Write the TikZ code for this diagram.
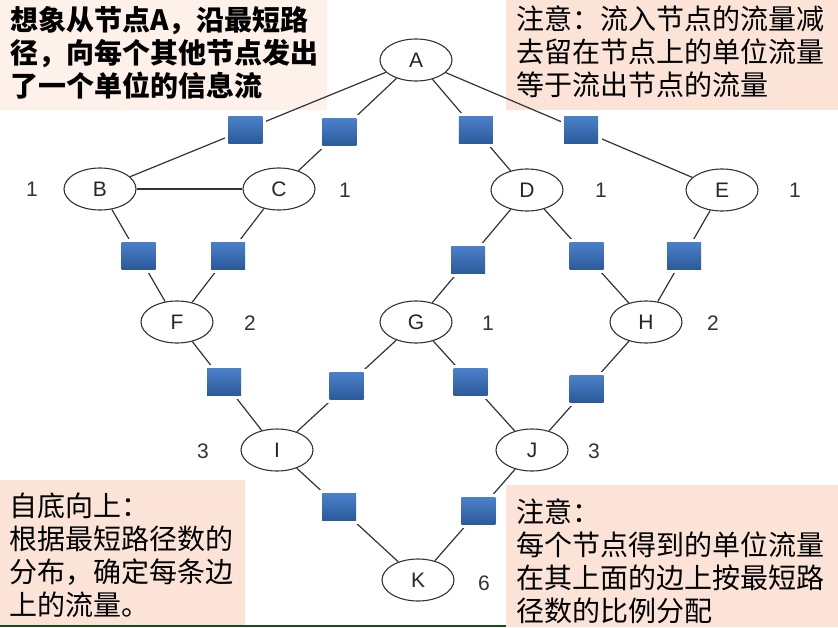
\documentclass[tikz,border=0pt]{standalone}
\usepackage{fontspec}
\setmainfont{Liberation Sans}
\newfontfamily\cjk{Noto Sans CJK SC}
\usetikzlibrary{shapes.geometric,calc}
\definecolor{notebg}{HTML}{FBE4D7}
\definecolor{notebglight}{HTML}{FDF1EA}
\definecolor{sqtop}{HTML}{4A80CA}
\definecolor{sqbot}{HTML}{2C5A9A}
\definecolor{edgegray}{HTML}{333333}
\definecolor{rulegreen}{HTML}{1E4A1E}

\begin{document}
\begin{tikzpicture}[x=1pt,y=-1pt,
  vtx/.style={ellipse,draw=edgegray,line width=1.1pt,minimum width=72pt,minimum height=42pt,inner sep=0pt,
    font=\fontsize{21}{21}\selectfont,text=black!85},
  cnt/.style={font=\fontsize{21}{21}\selectfont,text=black!80},
  link/.style={draw=edgegray,line width=1.2pt},
  flow/.style={rectangle,minimum width=34pt,minimum height=27pt,inner sep=0pt,
    top color=sqtop,bottom color=sqbot,preaction={draw=white,line width=7pt}},
  note/.style={anchor=north west,inner sep=0pt,align=left,font=\cjk\fontsize{28}{33}\selectfont}]
\useasboundingbox (0,0) rectangle (838,627);

% text boxes
\fill[notebglight] (0,0) rectangle (327,110);
\fill[notebg] (506,0) rectangle (838,110);
\fill[notebg] (0,480) rectangle (245,625);
\fill[notebg] (506,485) rectangle (838,627);
\draw[rulegreen,line width=2pt] (0,626) -- (506,626);

\node[note,font=\cjk\bfseries\fontsize{28}{33}\selectfont] (tl) at (10,6) {想象从节点A，沿最短路\\径，向每个其他节点发出\\了一个单位的信息流};
\node[note] (tr) at (516,6) {注意：流入节点的流量减\\去留在节点上的单位流量\\等于流出节点的流量};
\node[note] (bl) at (9,493) {自底向上：\\根据最短路径数的\\分布，确定每条边\\上的流量。};
\node[note] (br) at (516,499) {注意：\\每个节点得到的单位流量\\在其上面的边上按最短路\\径数的比例分配};

% vertices
\node[vtx] (A) at (416,60) {A};
\node[vtx] (B) at (100,189) {B};
\node[vtx] (C) at (279,189) {C};
\node[vtx] (D) at (527,190) {D};
\node[vtx] (E) at (722,190) {E};
\node[vtx] (F) at (177,322) {F};
\node[vtx] (G) at (416,322) {G};
\node[vtx] (H) at (646,322) {H};
\node[vtx] (I) at (277,450) {I};
\node[vtx] (J) at (532,450) {J};
\node[vtx] (K) at (418,580) {K};

% path counts
\node[cnt] (nB) at (32,189) {1};
\node[cnt] (nC) at (345,190) {1};
\node[cnt] (nD) at (601,190) {1};
\node[cnt] (nE) at (795,190) {1};
\node[cnt] (nF) at (250,323) {2};
\node[cnt] (nG) at (488,323) {1};
\node[cnt] (nH) at (713,323) {2};
\node[cnt] (nI) at (203,451) {3};
\node[cnt] (nJ) at (594,451) {3};
\node[cnt] (nK) at (484,583) {6};

% edges
\draw[link] (B) -- (C);
\foreach \u/\v in {A/B,A/C,A/D,A/E,B/F,C/F,D/G,D/H,E/H,F/I,G/I,G/J,H/J,I/K,J/K}
  \draw[link] (\u) -- (\v);

% unit flow blocks
\foreach \u/\v/\f in {A/B/0.54,A/C/0.56,A/D/0.54,A/E/0.54,B/F/0.5,C/F/0.5,D/G/0.53,D/H/0.5,E/H/0.5,
    F/I/0.47,G/I/0.5,G/J/0.47,H/J/0.52,I/K/0.44,J/K/0.47}
  \node[flow] (q\u\v) at ($(\u)!\f!(\v)$) {};

\end{tikzpicture}
\end{document}
